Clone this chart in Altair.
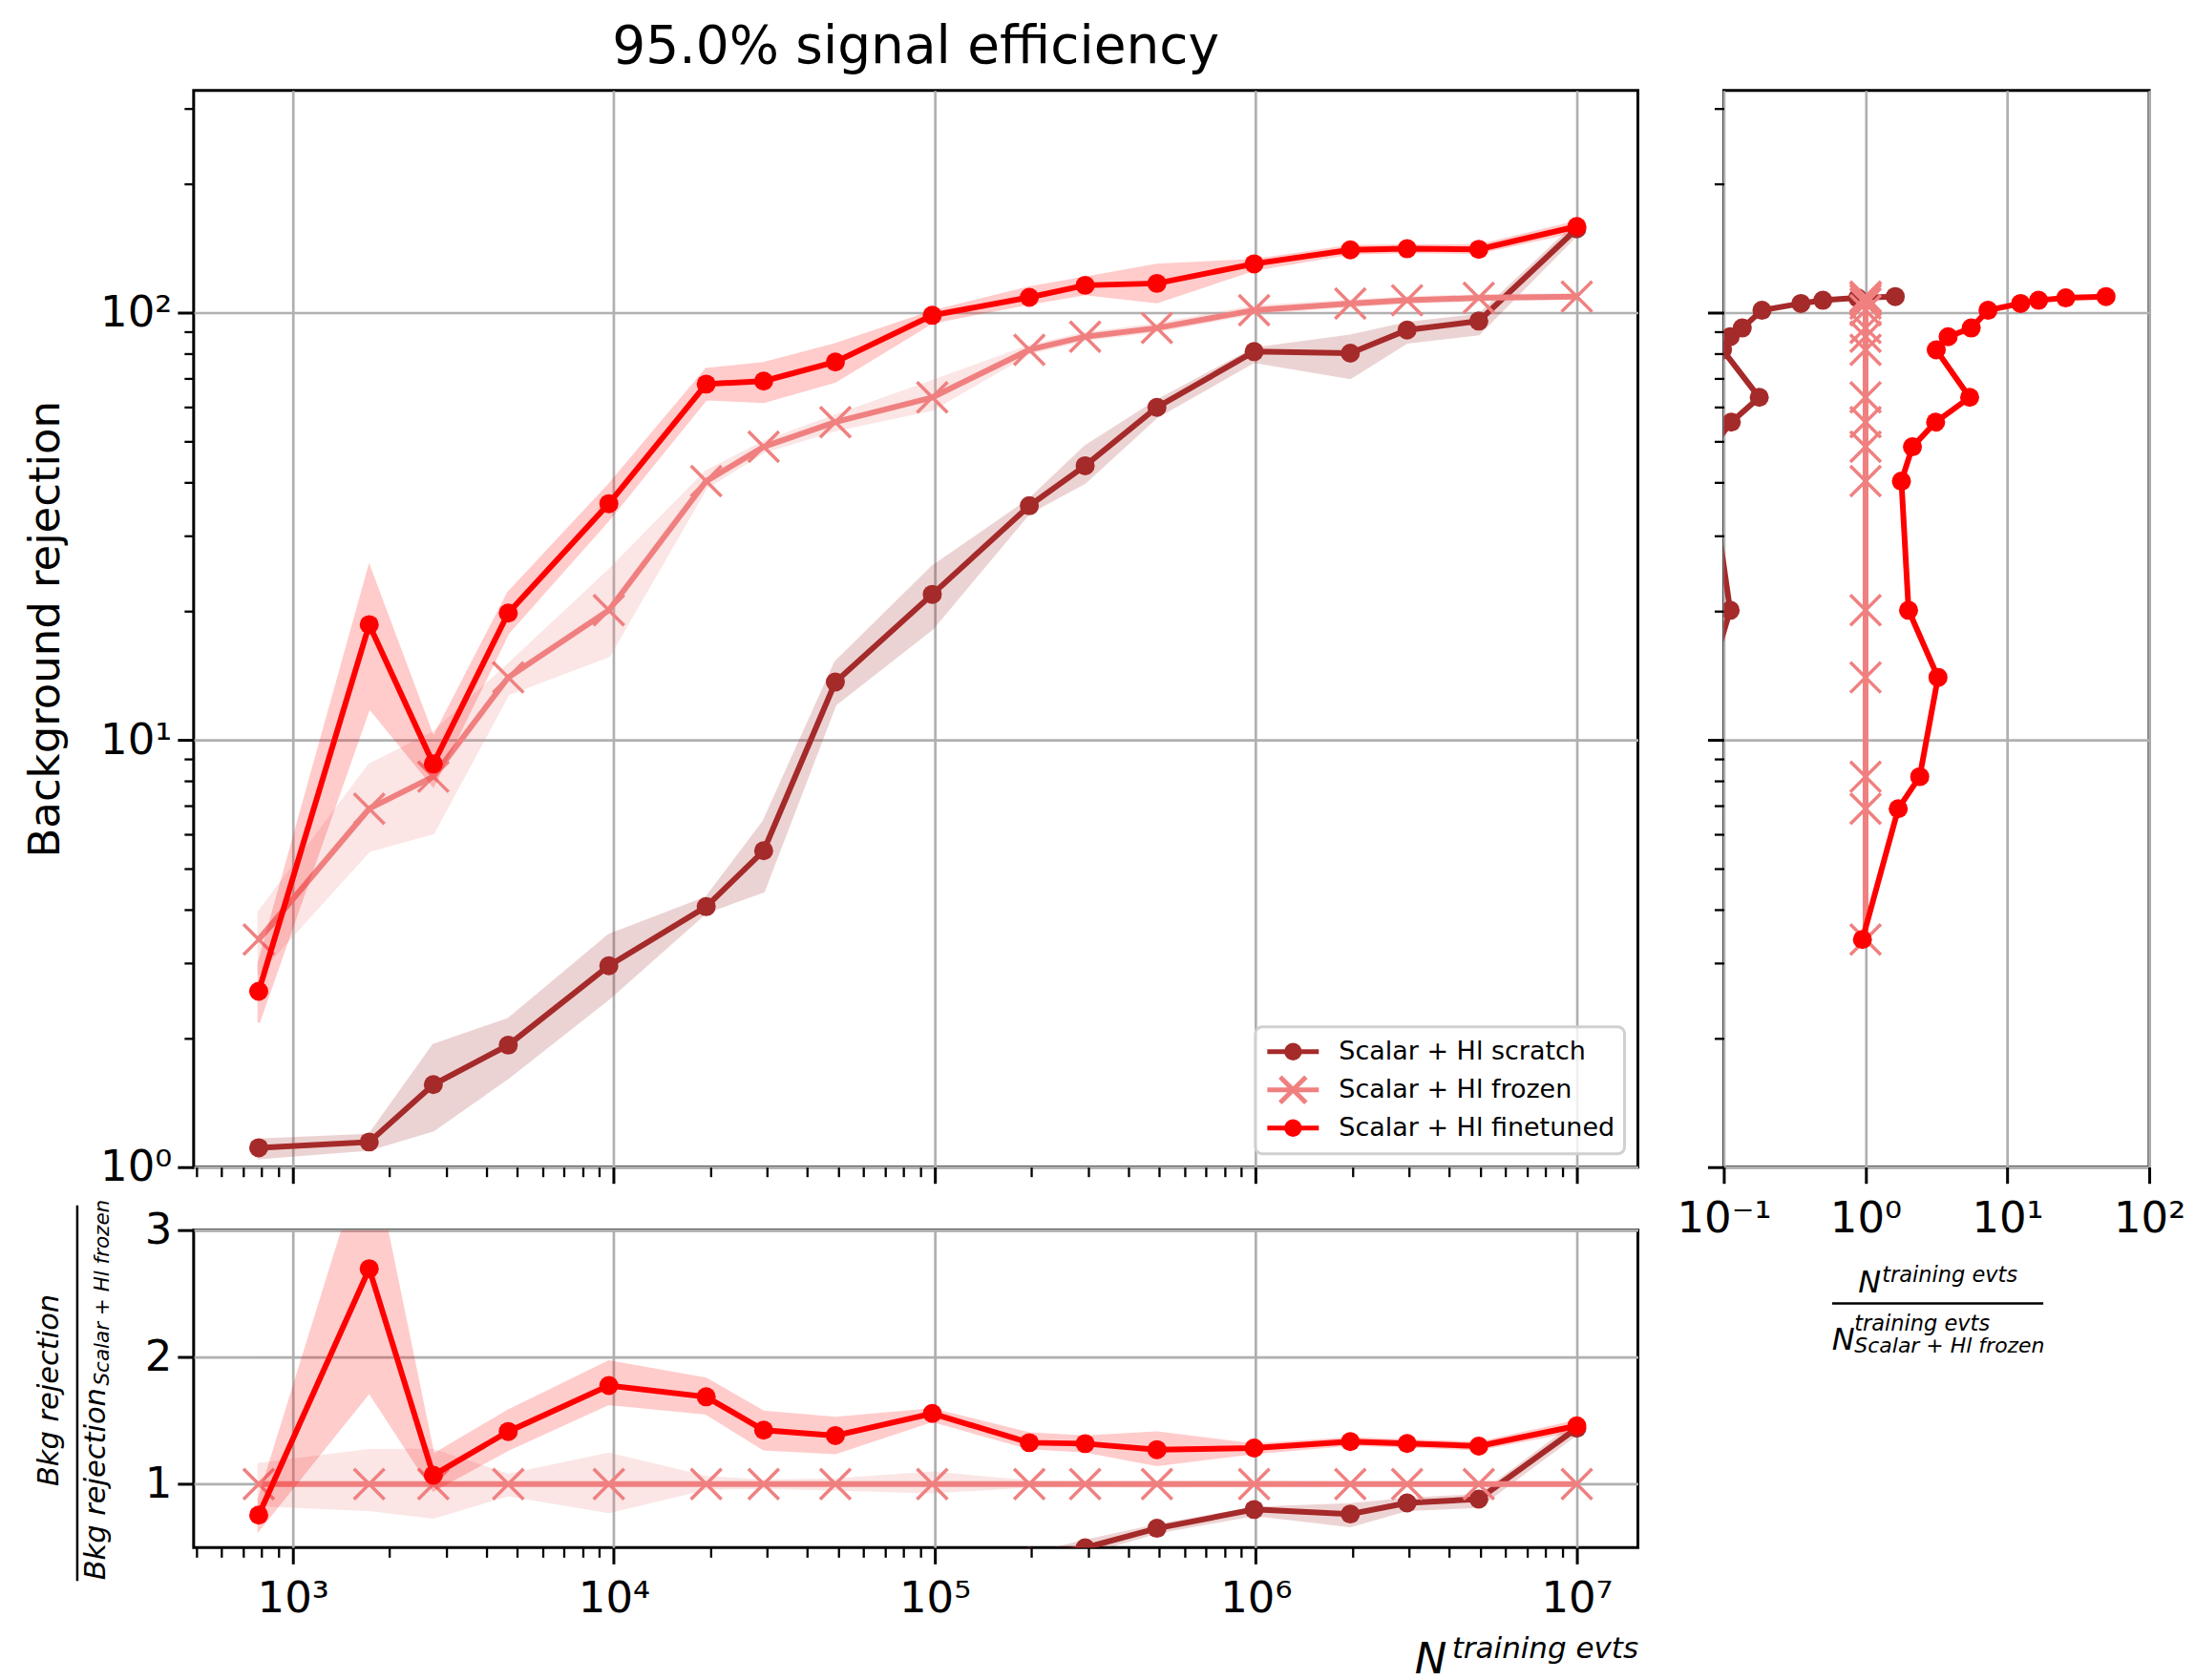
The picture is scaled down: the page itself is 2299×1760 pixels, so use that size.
import altair as alt
import pandas as pd

# ---------------- data ----------------
n_events = [783, 1730, 2740, 4690, 9650, 19400, 29300, 49000, 98200, 197000,
            294000, 492000, 988000, 1970000, 2960000, 4950000, 10000000]

scratch_rej = [1.11, 1.145, 1.56, 1.93, 2.96, 4.07, 5.5, 13.65, 21.9, 35.3,
               43.8, 60.0, 81.0, 80.3, 91.0, 95.5, 157.0]
scratch_lo = [1.05, 1.10, 1.22, 1.62, 2.48, 3.95, 4.42, 12.1, 18.2, 34.0,
              40.0, 57.0, 76.7, 70.3, 85.1, 89.0, 152.0]
scratch_hi = [1.16, 1.19, 1.93, 2.22, 3.49, 4.27, 6.44, 15.2, 25.4, 36.5,
              48.6, 62.2, 82.3, 88.2, 94.5, 98.7, 162.0]

frozen_rej = [3.41, 6.9, 8.2, 14.0, 20.1, 40.3, 48.5, 55.4, 63.3, 81.8,
              87.8, 92.0, 101.2, 105.0, 106.8, 108.2, 109.0]
frozen_lo = [2.85, 5.5, 6.05, 12.8, 15.7, 38.9, 47.2, 53.1, 59.3, 80.3,
             86.3, 90.4, 99.5, 103.5, 105.3, 106.8, 107.7]
frozen_hi = [3.95, 8.74, 10.4, 15.0, 24.9, 42.5, 49.8, 57.4, 69.0, 83.5,
             89.4, 93.8, 103.4, 106.6, 108.4, 109.7, 110.4]

finetuned_rej = [2.58, 18.6, 8.78, 19.8, 35.7, 68.0, 69.1, 76.6, 98.5, 108.5,
                 115.8, 117.0, 130.0, 140.2, 141.0, 140.6, 159.0]
finetuned_lo = [2.18, 11.9, 7.8, 17.8, 32.8, 62.7, 61.8, 69.0, 94.8, 105.0,
                110.5, 105.8, 126.0, 137.5, 138.5, 138.0, 155.0]
finetuned_hi = [3.0, 25.4, 10.1, 22.1, 39.5, 73.7, 76.1, 84.3, 100.5, 114.4,
                120.6, 129.3, 132.7, 143.0, 143.5, 143.5, 163.0]

# right panel: training-event ratio at the frozen model's rejection levels
nratio_scratch = [0.06, 0.05, 0.078, 0.08, 0.111, 0.082, 0.083, 0.113, 0.178, 0.098,
                  0.111, 0.135, 0.186, 0.35, 0.50, 0.88, 1.62]
nratio_frozen = [1.0, 1.0, 1.0, 1.0, 1.0, 1.0, 1.0, 1.0, 1.0, 1.0,
                 1.0, 1.0, 1.0, 1.0, 1.0, 1.0, 1.0]
nratio_finetuned = [0.95, 1.70, 2.41, 3.24, 2.01, 1.79, 2.14, 3.12, 5.42, 3.15,
                    3.82, 5.56, 7.3, 12.4, 16.6, 25.8, 49.6]

series_names = ["Scalar + Hl scratch", "Scalar + Hl frozen", "Scalar + Hl finetuned"]
series_colors = ["#a52a2a", "#f08080", "#ff0000"]
series_markers = ["circle", "x", "circle"]

# ---------------- table ----------------
rows = []
for name, vals, lo, hi, rx in zip(
        series_names,
        [scratch_rej, frozen_rej, finetuned_rej],
        [scratch_lo, frozen_lo, finetuned_lo],
        [scratch_hi, frozen_hi, finetuned_hi],
        [nratio_scratch, nratio_frozen, nratio_finetuned]):
    for i, n in enumerate(n_events):
        rows.append(dict(series=name, idx=i, n=n, value=vals[i], lo=lo[i], hi=hi[i],
                         ratio=vals[i] / frozen_rej[i],
                         ratio_lo=lo[i] / frozen_rej[i],
                         ratio_hi=hi[i] / frozen_rej[i],
                         rx=rx[i], ry=frozen_rej[i]))
df = pd.DataFrame(rows)

# ---------------- styling helpers ----------------
FONT = "DejaVu Sans"
GRID = "#b0b0b0"
XPATH = "M-1,-1L1,1M-1,1L1,-1"
SUPS = "⁰¹²³⁴⁵⁶⁷⁸⁹"
EXP = "round(log(datum.value) / LN10)"
MAJOR = f"abs(log(datum.value) / LN10 - {EXP}) < 0.001"
LOG_LABEL = (f"{MAJOR} ? '10' + ({EXP} < 0 ? '⁻' : '') + "
             f"substring('{SUPS}', abs({EXP}), abs({EXP}) + 1) : ''")
LINE_W = 6
DOT_SIZE = 400
X_SIZE = 1024


def cond(major_val, minor_val):
    return {"condition": {"test": MAJOR, "value": major_val}, "value": minor_val}


def log_ticks(lo, hi):
    out = []
    for e in range(-2, 9):
        for m in range(1, 10):
            v = m * 10.0 ** e
            if lo * 0.999 <= v <= hi * 1.001:
                out.append(v)
    return out


X_DOMAIN = [491, 1.55e7]
Y_DOMAIN = [1, 331]
x_ticks = log_ticks(*X_DOMAIN)
y_ticks = log_ticks(*Y_DOMAIN)

common = dict(domain=False, tickColor="black", labelFont=FONT, labelFontSize=45,
              labelColor="black", gridColor=GRID, gridWidth=2.7,
              labelOverlap=False, labelFlush=False)

ax_main_x = alt.Axis(values=x_ticks, labels=False, title=None, grid=True,
                     gridOpacity=cond(1, 0), tickSize=cond(17, 10),
                     tickWidth=cond(3, 2.3), **common)
ax_main_y = alt.Axis(values=y_ticks, labelExpr=LOG_LABEL, labelPadding=6, grid=True,
                     gridOpacity=cond(1, 0), tickSize=cond(17, 10),
                     tickWidth=cond(3, 2.3),
                     title="Background rejection", titleFont=FONT, titleFontSize=45,
                     titleFontWeight="normal", titleColor="black", titleX=-141,
                     titleY=564.5, titleAngle=270, titleAlign="center",
                     titleBaseline="alphabetic", **common)
ax_right_x = alt.Axis(values=[0.1, 1, 10, 100], labelExpr=LOG_LABEL, labelPadding=15,
                      grid=True, tickSize=17, tickWidth=3, title=None, **common)
ax_right_y = alt.Axis(values=y_ticks, labels=False, grid=True, gridOpacity=cond(1, 0),
                      tickSize=cond(17, 10), tickWidth=cond(3, 2.3), title=None, **common)
ax_bot_x = alt.Axis(values=x_ticks, labelExpr=LOG_LABEL, labelPadding=14, grid=True,
                    gridOpacity=cond(1, 0), tickSize=cond(17, 10),
                    tickWidth=cond(3, 2.3), title=None, **common)
ax_bot_y = alt.Axis(values=[1, 2, 3], format="d", labelPadding=6, grid=True,
                    tickSize=17, tickWidth=3, title=None, **common)

xs_main = alt.Scale(type="log", domain=X_DOMAIN, nice=False)
ys_main = alt.Scale(type="log", domain=Y_DOMAIN, nice=False)
xs_right = alt.Scale(type="log", domain=[0.1, 100], nice=False)
ys_bot = alt.Scale(domain=[0.5, 3], nice=False, zero=False)


def series_layers(xf, yf, lof, hif, xs, ys, xax, yax, clip, band=True, ordered=False):
    layers = []
    for name, color, marker in zip(series_names, series_colors, series_markers):
        src = alt.Chart(df).transform_filter(alt.datum.series == name)
        X = alt.X(f"{xf}:Q", scale=xs, axis=xax)
        Y = alt.Y(f"{yf}:Q", scale=ys, axis=yax)
        if band:
            layers.append(
                src.mark_area(color=color, opacity=0.2, stroke=color, strokeWidth=2.5,
                              clip=clip)
                .encode(x=X, y=alt.Y(f"{lof}:Q", scale=ys, axis=yax),
                        y2=alt.Y2(f"{hif}:Q")))
        enc = dict(x=X, y=Y)
        if ordered:
            enc["order"] = alt.Order("idx:Q")
        layers.append(src.mark_line(color=color, strokeWidth=LINE_W, clip=clip).encode(**enc))
        if marker == "circle":
            layers.append(src.mark_point(shape="circle", filled=True, size=DOT_SIZE,
                                         color=color, opacity=1, clip=clip)
                          .encode(x=X, y=Y))
        else:
            layers.append(src.mark_point(shape=XPATH, filled=False, size=X_SIZE,
                                         strokeWidth=3.5, color=color, opacity=1,
                                         clip=clip)
                          .encode(x=X, y=Y))
    return layers


def txt(s, x, y, size, angle=0, align="left", italic=True):
    return alt.Chart(pd.DataFrame({"t": [s]})).mark_text(
        angle=angle, align=align, baseline="alphabetic", font=FONT, fontSize=size,
        fontStyle="italic" if italic else "normal", color="black"
    ).encode(x=alt.value(x), y=alt.value(y), text="t:N")


def hbar(x1, x2, y):
    return alt.Chart(pd.DataFrame({"k": [0]})).mark_rule(
        color="black", strokeWidth=2.5).encode(x=alt.value(x1), x2=alt.value(x2),
                                                y=alt.value(y))


def vbar(x, y1, y2):
    return alt.Chart(pd.DataFrame({"k": [0]})).mark_rule(
        color="black", strokeWidth=2.5).encode(x=alt.value(x), y=alt.value(y1),
                                                y2=alt.value(y2))


# ---------------- legend (built from the series scales) ----------------
LEG_LINE_DOT = "M-2,0L2,0M0.5,0A0.5,0.5,0,1,1,-0.5,0A0.5,0.5,0,1,1,0.5,0"
LEG_LINE_X = "M-2,0L2,0M-1,-1L1,1M-1,1L1,-1"
leg = alt.Legend(title=None, orient="bottom-right", offset=14, padding=10,
                 fillColor="rgba(255,255,255,0.8)", strokeColor="#d0d0d0",
                 cornerRadius=7, labelFont=FONT, labelFontSize=27, labelColor="black",
                 labelLimit=0, labelOffset=32, symbolSize=729, symbolStrokeWidth=5,
                 symbolOffset=13.5, rowPadding=-1, symbolOpacity=1)
legend_layer = alt.Chart(df).transform_filter("false").mark_point(
    filled=True, size=729, strokeWidth=5, opacity=1, clip=True
).encode(
    x=alt.X("n:Q", scale=xs_main, axis=ax_main_x),
    y=alt.Y("value:Q", scale=ys_main, axis=ax_main_y),
    fill=alt.Fill("series:N", scale=alt.Scale(domain=series_names, range=series_colors),
                  legend=leg),
    stroke=alt.Stroke("series:N", scale=alt.Scale(domain=series_names, range=series_colors),
                      legend=leg),
    shape=alt.Shape("series:N", scale=alt.Scale(domain=series_names,
                                                range=[LEG_LINE_DOT, LEG_LINE_X, LEG_LINE_DOT]),
                    legend=leg),
)

# ---------------- panels ----------------
main = alt.layer(
    *series_layers("n", "value", "lo", "hi", xs_main, ys_main, ax_main_x, ax_main_y, False),
    legend_layer,
    txt("95.0% signal efficiency", 757, -29, 55, align="center", italic=False),
).properties(width=1514, height=1129)

right = alt.layer(
    *series_layers("rx", "ry", None, None, xs_right, ys_main, ax_right_x, ax_right_y,
                   True, band=False, ordered=True),
    hbar(113.6, 335, 1272),
    txt("N", 141, 1260, 32),
    txt("training evts", 166, 1249, 22.5),
    txt("N", 113.5, 1320, 32),
    txt("training evts", 137, 1300.5, 22.5),
    txt("Scalar + Hl frozen", 137, 1323.5, 22),
).properties(width=446, height=1129)

bottom = alt.layer(
    *series_layers("n", "ratio", "ratio_lo", "ratio_hi", xs_main, ys_bot, ax_bot_x,
                   ax_bot_y, True),
    txt("N", 1280, 465, 45),
    txt("training evts", 1319, 448.5, 31),
    txt("Bkg rejection", -141.5, 168, 30.5, angle=270, align="center"),
    vbar(-122, -26, 368),
    txt("Bkg rejection", -92.8, 367, 30.5, angle=270, align="left"),
    txt("Scalar + Hl frozen", -88.6, 163, 21.5, angle=270, align="left"),
).properties(width=1514, height=333)

chart = alt.concat(
    main, right, bottom, columns=2, spacing={"row": 66, "column": 90},
    bounds="flush", align="each",
).resolve_legend(
    fill="independent", stroke="independent", shape="independent"
).properties(
    padding={"left": 16, "top": 11, "right": 0, "bottom": 0},
).configure_view(
    stroke="black", strokeWidth=3,
).configure_legend(
    strokeWidth=3,
)

chart.save("out.html", embed_options={"renderer": "svg", "actions": False})
